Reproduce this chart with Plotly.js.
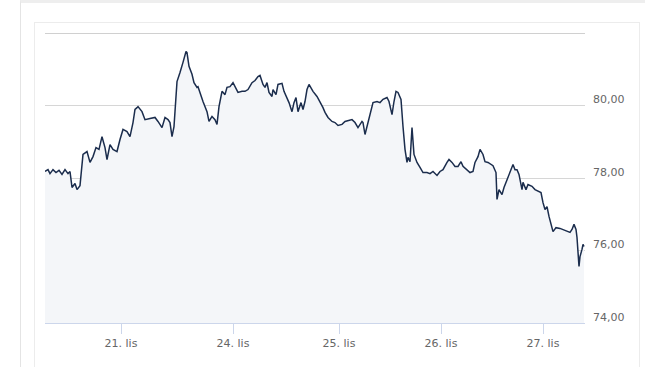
<!DOCTYPE html>
<html>
<head>
<meta charset="utf-8">
<script src="https://cdn.plot.ly/plotly-3.0.1.min.js"></script>
<style>
  html, body { margin:0; padding:0; background:#ffffff; width:645px; height:367px; overflow:hidden; }
  #outer { position:absolute; left:20px; top:0; width:625px; height:367px; border-top:3px solid #eeeeee; border-left:1px solid #e4e4e4; box-sizing:border-box; }
  #inner { position:absolute; left:34px; top:22px; width:606px; height:400px; border:1px solid #ececec; box-sizing:border-box; }
  #chart { position:absolute; left:0; top:0; width:645px; height:367px; }
</style>
</head>
<body>
<div id="outer"></div>
<div id="inner"></div>
<div id="chart"></div>
<script>
// Ordinal time slots (trading-time index) and prices
const slots = [0,3,5,8,11,14,17,20,23,25,27,30,32,35,38,42,45,48,51,54,57,60,62,65,68,72,75,78,82,85,88,90,92,93,97,100,105,110,113,117,120,123,125,127,129,131,132,135,137,138,141,142,144,147,149,152,153,156,158,162,164,167,170,172,174,177,180,182,185,188,190,193,197,200,203,207,210,213,215,218,220,222,224,227,228,231,233,237,239,242,244,247,249,251,253,256,258,260,262,264,268,272,275,278,280,283,287,290,293,297,300,303,307,310,313,317,318,320,322,325,328,332,335,338,342,344,347,349,351,353,356,358,360,362,363,365,367,369,372,375,378,382,385,388,392,395,398,402,404,407,410,413,416,418,422,425,428,430,433,435,438,440,443,446,448,451,452,454,457,459,461,463,466,468,470,472,474,477,478,481,483,487,490,493,496,498,500,502,504,508,511,515,518,522,525,527,529,531,532,534,535,537,538,539];
const prices = [78.18,78.23,78.12,78.23,78.15,78.21,78.10,78.23,78.12,78.18,77.74,77.85,77.68,77.79,78.65,78.73,78.43,78.59,78.84,78.79,79.14,78.84,78.51,78.92,78.79,78.73,79.06,79.34,79.28,79.14,79.53,79.89,79.94,79.97,79.83,79.61,79.64,79.67,79.56,79.39,79.67,79.61,79.53,79.14,79.42,80.36,80.66,80.91,81.08,81.19,81.49,81.46,81.08,80.86,80.63,80.50,80.52,80.25,80.11,79.83,79.56,79.70,79.61,79.48,79.97,80.39,80.30,80.50,80.52,80.63,80.52,80.36,80.39,80.39,80.44,80.63,80.69,80.80,80.83,80.58,80.50,80.63,80.36,80.25,80.44,80.30,80.58,80.61,80.39,80.22,80.08,79.83,80.08,80.22,79.83,80.08,79.89,80.11,80.44,80.58,80.39,80.25,80.11,79.94,79.81,79.67,79.56,79.53,79.45,79.48,79.56,79.59,79.61,79.53,79.39,79.56,79.53,79.20,79.42,79.83,80.08,80.11,80.08,80.17,80.22,80.11,79.75,80.11,80.39,80.36,80.17,79.42,78.79,78.43,78.57,78.45,79.39,78.65,78.43,78.29,78.15,78.15,78.12,78.18,78.07,78.18,78.23,78.43,78.51,78.43,78.32,78.32,78.45,78.32,78.23,78.15,78.18,78.43,78.59,78.79,78.65,78.45,78.43,78.37,78.34,78.15,77.41,77.68,77.54,77.74,77.88,78.04,78.23,78.37,78.23,78.23,78.10,77.68,77.88,77.68,77.82,77.77,77.68,77.63,77.60,77.32,77.13,77.21,76.94,76.52,76.63,76.61,76.58,76.52,76.50,76.58,76.72,76.58,76.36,75.56,75.83,76.03,76.17,76.11,76.17];
const tickSlots = [76, 188, 294, 396, 498];
const tickLabels = ['21. lis', '24. lis', '25. lis', '26. lis', '27. lis'];
const yTicks = [74, 76, 78, 80, 82];
const yTickLabels = ['74,00', '76,00', '78,00', '80,00', ''];

const n = Math.min(slots.length, prices.length);

const trace = {
  x: slots.slice(0, n),
  y: prices.slice(0, n),
  type: 'scatter',
  mode: 'lines',
  line: { color: '#1b2d4d', width: 1.5 },
  fill: 'tozeroy',
  fillcolor: '#f4f6f9',
  hoverinfo: 'skip'
};

const layout = {
  width: 645, height: 367,
  margin: { l: 45, r: 60, t: 33, b: 44, pad: 0 },
  paper_bgcolor: 'rgba(0,0,0,0)',
  plot_bgcolor: 'rgba(0,0,0,0)',
  showlegend: false,
  font: { family: 'DejaVu Sans, Verdana, sans-serif', size: 11, color: '#666666' },
  xaxis: {
    range: [0, 540],
    tickmode: 'array', tickvals: tickSlots, ticktext: tickLabels,
    showgrid: false, zeroline: false,
    showline: true, linecolor: '#ccd6eb', linewidth: 1,
    ticks: 'outside', ticklen: 10, tickcolor: '#ccd6eb', tickwidth: 1,
    tickfont: { family: 'DejaVu Sans, Verdana, sans-serif', size: 11, color: '#666666' },
    fixedrange: true
  },
  yaxis: {
    range: [74, 82],
    side: 'right',
    tickmode: 'array', tickvals: yTicks, ticktext: yTickLabels,
    showgrid: true, gridcolor: '#d6d6d6', gridwidth: 1,
    zeroline: false, showline: false, ticks: '',
    ticklabelshift: -6, ticklabelstandoff: 7,
    tickfont: { family: 'DejaVu Sans, Verdana, sans-serif', size: 11, color: '#666666' },
    fixedrange: true
  },
  shapes: [{
    type: 'line', xref: 'paper', yref: 'y', x0: 0, x1: 1, y0: 82, y1: 82,
    line: { color: '#d0d0d0', width: 2 }, layer: 'below'
  }]
};

Plotly.newPlot('chart', [trace], layout, { staticPlot: true, displayModeBar: false });
</script>
</body>
</html>
